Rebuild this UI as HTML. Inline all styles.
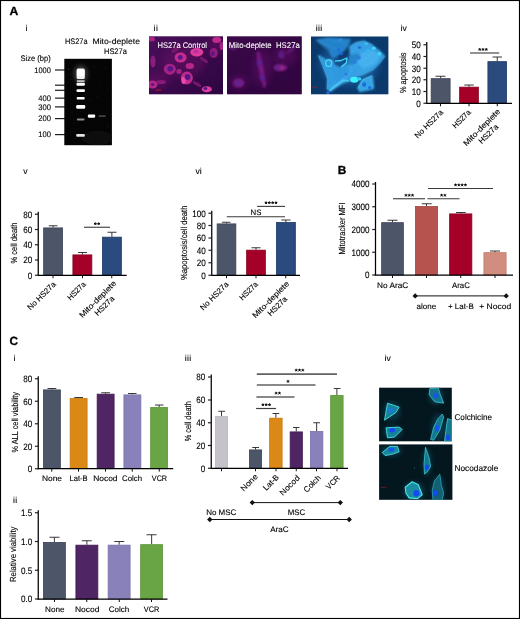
<!DOCTYPE html>
<html><head><meta charset="utf-8"><title>Figure</title>
<style>html,body{margin:0;padding:0;background:#fff;}svg{display:block;filter:blur(0.3px);text-rendering:geometricPrecision;font-family:'Liberation Sans', sans-serif;}text{fill:#000;stroke:#000;stroke-width:0.12px;}</style>
</head><body>
<svg width="520" height="619" viewBox="0 0 520 619">
<defs>
<filter id="b1" x="-50%" y="-50%" width="200%" height="200%"><feGaussianBlur stdDeviation="1"/></filter>
<filter id="b2" x="-50%" y="-50%" width="200%" height="200%"><feGaussianBlur stdDeviation="2"/></filter>
<filter id="b05" x="-50%" y="-50%" width="200%" height="200%"><feGaussianBlur stdDeviation="0.5"/></filter>
<filter id="b07" x="-50%" y="-50%" width="200%" height="200%"><feGaussianBlur stdDeviation="0.7"/></filter>
<filter id="b3" x="-50%" y="-50%" width="200%" height="200%"><feGaussianBlur stdDeviation="3.5"/></filter>
<clipPath id="cGel"><rect x="64.3" y="58.8" width="47.6" height="86.4"/></clipPath>
<clipPath id="cM1"><rect x="149" y="36.3" width="74" height="58"/></clipPath>
<clipPath id="cM2"><rect x="227" y="36.3" width="75" height="58"/></clipPath>
<clipPath id="cM3"><rect x="311" y="36.5" width="77.4" height="57.8"/></clipPath>
<clipPath id="cM4"><rect x="379.1" y="387.7" width="72.7" height="53.6"/></clipPath>
<clipPath id="cM5"><rect x="379.1" y="444.4" width="73.3" height="55.4"/></clipPath>
</defs>
<rect x="0" y="0" width="520" height="619" fill="#fff"/>
<rect x="0.5" y="0.5" width="519" height="618" fill="none" stroke="#000" stroke-width="1.15"/>
<text x="9.5" y="15.2" font-size="11.8" font-weight="bold" fill="#000" textLength="8.8" lengthAdjust="spacingAndGlyphs" style="stroke-width:0.3px">A</text>
<text x="337.7" y="173.75" font-size="11.8" font-weight="bold" fill="#000" style="stroke-width:0.3px">B</text>
<text x="9.5" y="345.3" font-size="11.8" font-weight="bold" fill="#000" style="stroke-width:0.3px">C</text>
<text x="26.5" y="31.0" font-size="8.6" text-anchor="middle" >i</text>
<text x="155.9" y="31.0" font-size="8.6" text-anchor="middle" letter-spacing="0.5">ii</text>
<text x="319.2" y="31.0" font-size="8.6" text-anchor="middle" letter-spacing="0.45">iii</text>
<text x="403.6" y="31.0" font-size="8.6" text-anchor="middle" >iv</text>
<text x="25.5" y="174.0" font-size="8.6" text-anchor="middle" >v</text>
<text x="198.5" y="174.0" font-size="8.6" text-anchor="middle" >vi</text>
<text x="14.4" y="361.2" font-size="8.6" text-anchor="middle" >i</text>
<text x="188.2" y="361.2" font-size="8.6" text-anchor="middle" letter-spacing="0.45">iii</text>
<text x="387.7" y="361.2" font-size="8.6" text-anchor="middle" >iv</text>
<text x="15.3" y="502.6" font-size="8.6" text-anchor="middle" letter-spacing="0.5">ii</text>
<!--GEL-->
<text x="65" y="43.9" font-size="8.1" textLength="22.5" lengthAdjust="spacingAndGlyphs">HS27a</text>
<text x="92.5" y="43.9" font-size="8.1" textLength="47.5" lengthAdjust="spacingAndGlyphs">Mito-deplete</text>
<text x="104" y="53.9" font-size="8.1" textLength="22.8" lengthAdjust="spacingAndGlyphs">HS27a</text>
<text x="20.5" y="61.1" font-size="8.1" textLength="30.2" lengthAdjust="spacingAndGlyphs">Size (bp)</text>
<text x="50.9" y="72.8" font-size="8" text-anchor="end" textLength="16.6" lengthAdjust="spacingAndGlyphs">1000</text>
<text x="50.9" y="100.95" font-size="8" text-anchor="end" textLength="12.7" lengthAdjust="spacingAndGlyphs">400</text>
<text x="50.9" y="109.7" font-size="8" text-anchor="end" textLength="12.7" lengthAdjust="spacingAndGlyphs">300</text>
<text x="50.9" y="121.4" font-size="8" text-anchor="end" textLength="12.7" lengthAdjust="spacingAndGlyphs">200</text>
<text x="50.9" y="137.4" font-size="8" text-anchor="end" textLength="12.7" lengthAdjust="spacingAndGlyphs">100</text>
<g stroke="#1c1c1c" stroke-width="1.2">
<line x1="55" y1="70" x2="65" y2="70"/><line x1="55" y1="85.2" x2="65" y2="85.2"/><line x1="55" y1="90.3" x2="65" y2="90.3"/>
<line x1="55" y1="98.15" x2="65" y2="98.15"/><line x1="55" y1="106.9" x2="65" y2="106.9"/><line x1="55" y1="118.6" x2="65" y2="118.6"/><line x1="55" y1="134.6" x2="65" y2="134.6"/>
</g>
<rect x="64.3" y="58.8" width="47.6" height="86.4" fill="#050505"/>
<g clip-path="url(#cGel)">
<ellipse cx="98" cy="138" rx="16" ry="7" fill="#111" filter="url(#b2)"/>
<ellipse cx="80.7" cy="74" rx="7" ry="9" fill="#3a3a3a" filter="url(#b2)"/>
<g filter="url(#b07)" fill="#fff">
<rect x="76.6" y="68.4" width="8.2" height="10.6" rx="1.5" opacity="0.93"/>
<rect x="76.9" y="69.6" width="7.6" height="6.6" rx="1.5"/>
<rect x="76.8" y="80.3" width="7.8" height="1.6" opacity="0.8"/>
<rect x="76.5" y="82.8" width="8.4" height="3" rx="1"/>
<rect x="76.5" y="89.2" width="8.4" height="2.8" rx="1"/>
<rect x="76.7" y="97.1" width="8" height="2.5" rx="1"/>
<rect x="76.2" y="105.1" width="9" height="3.6" rx="1.2"/>
<rect x="76.9" y="118.5" width="7.6" height="2" rx="0.8" opacity="0.55"/>
<rect x="76.2" y="134" width="8.6" height="2.7" rx="1" opacity="0.9"/>
<rect x="87.8" y="114.6" width="7.4" height="3.1" rx="1.1"/>
<rect x="98.6" y="115.2" width="7.2" height="1.9" rx="0.9" opacity="0.25"/>
</g>
<g fill="#fff" opacity="0.45">
<circle cx="68.8" cy="69" r="0.4"/><circle cx="70.5" cy="79.5" r="0.35"/><circle cx="94" cy="67" r="0.3"/><circle cx="105.5" cy="67.5" r="0.35"/><circle cx="90" cy="99.5" r="0.3"/>
<circle cx="97.5" cy="97" r="0.35"/><circle cx="72" cy="112" r="0.3"/><circle cx="108" cy="126" r="0.3"/><circle cx="90" cy="139" r="0.3"/><circle cx="71" cy="131" r="0.3"/><circle cx="101" cy="83" r="0.3"/>
<circle cx="108" cy="88" r="0.3"/><circle cx="86" cy="135" r="0.3"/><circle cx="104" cy="141" r="0.3"/>
</g>
</g>

<!--/GEL-->
<!--MICRO-->
<linearGradient id="gM1" x1="0" y1="0" x2="1" y2="1"><stop offset="0" stop-color="#4a0f5a"/><stop offset="0.5" stop-color="#3c0a4c"/><stop offset="1" stop-color="#2c0540"/></linearGradient>
<linearGradient id="gM2" x1="0" y1="0" x2="0.6" y2="1"><stop offset="0" stop-color="#3b0949"/><stop offset="1" stop-color="#300540"/></linearGradient>
<rect x="149" y="36.3" width="74" height="58" fill="url(#gM1)"/>
<g clip-path="url(#cM1)">
<g filter="url(#b3)" opacity="0.24" fill="#98147e">
<ellipse cx="183" cy="62" rx="22" ry="16"/><ellipse cx="158" cy="80" rx="12" ry="8"/><ellipse cx="215" cy="46" rx="9" ry="9"/>
</g>
<g filter="url(#b07)">
<ellipse cx="180.6" cy="57.6" rx="6" ry="5" fill="#c82c90"/>
<ellipse cx="196.8" cy="52.2" rx="6.5" ry="4.2" fill="#dc3a9c"/>
<ellipse cx="169.8" cy="69.2" rx="6" ry="5.5" fill="#a42484"/>
<ellipse cx="186.8" cy="78" rx="6" ry="6.5" fill="#c02a8c"/>
<ellipse cx="183.6" cy="80.5" rx="2.2" ry="3.5" fill="#ee48a8"/>
<ellipse cx="189.8" cy="66" rx="4.2" ry="3" fill="#b42888"/>
<ellipse cx="179" cy="71.5" rx="2.6" ry="2.4" fill="#a42484"/>
<ellipse cx="153" cy="61.5" rx="2.6" ry="6" fill="#8c1c7c"/>
<ellipse cx="152.5" cy="84.5" rx="5" ry="4" fill="#b42888"/>
<ellipse cx="161" cy="82" rx="5" ry="2" fill="#861a78"/>
<ellipse cx="206.8" cy="89.2" rx="5" ry="3" fill="#dc3a9c"/>
<ellipse cx="213.7" cy="53" rx="4" ry="5" fill="#901e7c"/>
<ellipse cx="216.8" cy="40" rx="4.5" ry="3" fill="#c02a8c"/>
<ellipse cx="222" cy="46" rx="2.5" ry="4" fill="#a42484"/>
<ellipse cx="151.5" cy="39" rx="3.5" ry="2.5" fill="#a42484"/>
<ellipse cx="175" cy="50" rx="4" ry="2" fill="#74166e" transform="rotate(-30 175 50)"/>
<ellipse cx="204" cy="60" rx="5" ry="1.6" fill="#74166e" transform="rotate(35 204 60)"/>
<ellipse cx="197" cy="84" rx="5" ry="1.6" fill="#74166e" transform="rotate(30 197 84)"/>
</g>
<g filter="url(#b07)" fill="#561888">
<ellipse cx="180.3" cy="57.4" rx="2.5" ry="2.3"/><ellipse cx="196" cy="51.6" rx="2.4" ry="1.8" fill="#b030a8"/>
<ellipse cx="170.2" cy="68.8" rx="2.9" ry="2.7"/><ellipse cx="187.6" cy="77" rx="2.9" ry="3"/>
<ellipse cx="205.4" cy="88.6" rx="1.9" ry="1.5"/><ellipse cx="212.6" cy="53.6" rx="2" ry="2.3"/>
<ellipse cx="152.5" cy="84.5" rx="1.6" ry="1.5"/>
</g>
<rect x="155.5" y="89.6" width="5.6" height="0.9" fill="#d01030"/>
</g>
<text x="157.5" y="47.7" font-size="8.2" textLength="49.5" lengthAdjust="spacingAndGlyphs" style="fill:#fff;stroke:#fff;stroke-width:0.08px">HS27a Control</text>

<rect x="227" y="36.3" width="74.8" height="58" fill="url(#gM2)"/>
<g clip-path="url(#cM2)">
<g filter="url(#b3)" opacity="0.28" fill="#801680">
<ellipse cx="262" cy="68" rx="10" ry="18"/><ellipse cx="285" cy="56" rx="12" ry="10"/><ellipse cx="239" cy="82" rx="9" ry="7"/>
</g>
<g filter="url(#b1)">
<path d="M257 52 L259 52 L262.6 66 L265.6 84 L264.4 88 L261 78 L258 64 Z" fill="#741a80" stroke="#741a80" stroke-width="1.2" stroke-linejoin="round"/>
<ellipse cx="280.2" cy="67.6" rx="7" ry="3.6" fill="#7a1c80"/>
<ellipse cx="281.5" cy="68" rx="2.6" ry="1.6" fill="#a82c90"/>
<ellipse cx="238.6" cy="83" rx="5.6" ry="4.6" fill="#7a1c80"/>
<ellipse cx="281.7" cy="54.5" rx="3.6" ry="4.6" fill="#5e1670"/>
<ellipse cx="291.5" cy="49.5" rx="6.5" ry="1.8" fill="#5e1670" transform="rotate(-40 291.5 49.5)"/>
<ellipse cx="233" cy="48" rx="4" ry="2.4" fill="#521268"/>
</g>
<g filter="url(#b1)" fill="#4c26a0" opacity="0.85">
<ellipse cx="259.4" cy="63" rx="1.7" ry="3"/><ellipse cx="261.9" cy="77.6" rx="1.7" ry="3"/>
<ellipse cx="238.4" cy="83" rx="2.6" ry="2.3"/><ellipse cx="277.8" cy="67.2" rx="2.4" ry="1.7"/><ellipse cx="281.2" cy="55.2" rx="1.7" ry="2"/>
</g>
</g>
<text x="228.8" y="47.9" font-size="8.2" textLength="71" lengthAdjust="spacingAndGlyphs" xml:space="preserve" style="fill:#fff;stroke:#fff;stroke-width:0.08px">Mito-deplete  HS27a</text>

<rect x="311" y="36.5" width="77.4" height="57.8" fill="#0b396b"/>
<g clip-path="url(#cM3)">
<g filter="url(#b3)" opacity="0.5"><ellipse cx="350" cy="64" rx="30" ry="22" fill="#1a6ab4"/></g>
<g filter="url(#b1)" stroke-linejoin="round">
<path d="M316.1 40.3 L327.9 37.9 L340.5 38.7 L350.0 39.5 L347.6 45.8 L342.9 51.3 L336.6 56.1 L332.7 57.7 L329.5 49.8 L323.2 45.0 Z" fill="#2381c9" stroke="#3a9ce0" stroke-width="0.8"/>
<path d="M318.5 55.3 L326.3 60.0 L332.7 60.0 L334.2 65.5 L340.5 67.9 L346.8 64.0 L351.6 70.3 L342.9 79.7 L335.8 86.0 L331.1 91.6 L327.1 89.2 L327.9 78.2 L323.2 65.5 Z" fill="#2f99df" stroke="#48b8f2" stroke-width="0.9"/>
<path d="M350.0 46.6 L356.3 42.7 L364.2 41.1 L372.1 45.0 L380.0 51.3 L384.7 56.1 L378.4 64.0 L372.1 70.3 L362.6 75.0 L354.7 77.4 L348.4 81.3 L342.9 79.7 L351.6 70.3 L348.4 62.4 L350.8 54.5 Z" fill="#35a0e4" stroke="#4cbaf4" stroke-width="0.9"/>
<path d="M357.9 87.6 L362.6 79.7 L372.1 75.8 L372.9 81.3 L373.7 88.4 L367.3 90.0 L359.5 91.6 Z" fill="#35a4e6" stroke="#54c4f6" stroke-width="0.9"/>
<path d="M348.4 81.3 L342.9 79.7 L332.7 86.0 L328.7 91.1 L334.2 89.2 L342.1 83.7 Z" fill="#46b8f2"/>
<path d="M337.1 56.1 L342.9 51.7 L347.6 46.9 L350.3 52.9 L345.6 58.0 L339.3 60.2 Z" fill="#0d3a70"/>
<path d="M348.4 62.4 L350.3 55.3 L356.3 52.9 L361.0 56.1 L356.3 61.6 L351.6 65.5 Z" fill="#2478c0" opacity="0.7"/>
<path d="M361.0 52.9 L372.1 49.8 L380.0 54.5 L375.2 64.0 L364.2 68.7 L357.9 64.0 Z" fill="#4ab4f0" opacity="0.8"/>
<path d="M318.5 41.1 L337.4 49.0 M320.0 43.5 L332.7 56.1 M329.5 40.3 L345.3 43.5" stroke="#3a9ce0" stroke-width="0.6" fill="none"/>
<path d="M356.3 73.4 L378.4 57.7 M353.2 67.9 L375.2 51.3 M361.0 75.8 L383.1 57.7" stroke="#52b8f2" stroke-width="0.6" fill="none" opacity="0.8"/>
<path d="M321.6 59.2 L330.3 88.4 M327.9 62.4 L334.2 84.5" stroke="#48b0ee" stroke-width="0.6" fill="none" opacity="0.8"/>
</g>
<g filter="url(#b05)">
<path d="M335.0 61.1 L341.3 60.5 L346.8 58.0 L346.5 62.7 L341.3 67.1" stroke="#48d8fa" stroke-width="1.3" fill="none" stroke-linejoin="round"/>
<path d="M329.5 90.8 L342.9 80.0 L349.2 81.3" stroke="#4ccaf6" stroke-width="1.1" fill="none" stroke-linejoin="round"/>
<path d="M358.2 88.4 L362.6 80.0 L372.1 75.9" stroke="#48c0f0" stroke-width="0.9" fill="none" stroke-linejoin="round"/>
<path d="M318.8 55.8 L327.9 78.2 L327.6 89.2" stroke="#3cacea" stroke-width="0.8" fill="none" stroke-linejoin="round"/>
<path d="M350.3 46.9 L356.3 43.0 L364.5 41.4 L372.1 45.0" stroke="#3ca4e4" stroke-width="0.8" fill="none" stroke-linejoin="round"/>
<path d="M372.1 70.6 L378.7 64.0 L384.7 56.4" stroke="#3ca4e4" stroke-width="0.8" fill="none" stroke-linejoin="round"/>
<ellipse cx="328.7" cy="63.2" rx="3" ry="3.3" fill="#2a9ad8" stroke="#50dcfa" stroke-width="1.1"/>
<ellipse cx="354.3" cy="79.7" rx="4.2" ry="3" fill="#3cf0ff"/>
<ellipse cx="359.1" cy="78.9" rx="2.4" ry="1.6" fill="#30d0f8"/>
<ellipse cx="373.7" cy="48.2" rx="2" ry="1.7" fill="#40d0f8"/>
<ellipse cx="379.5" cy="53.7" rx="1.8" ry="1.9" fill="#40d0f8"/>
<ellipse cx="368.1" cy="50.6" rx="2" ry="1.6" fill="#34b8f0"/>
<ellipse cx="366.1" cy="43.8" rx="1.8" ry="1.3" fill="#38c0f4"/>
<ellipse cx="340.5" cy="40.0" rx="1.5" ry="1.3" fill="#2c90f0"/>
<ellipse cx="338.6" cy="49.8" rx="1.6" ry="1.8" fill="#1c6ce0"/>
<ellipse cx="341.3" cy="53.7" rx="1.8" ry="1.4" fill="#1c64dc"/>
<ellipse cx="359.5" cy="47.4" rx="1.7" ry="1.5" fill="#2270e0"/>
<ellipse cx="359.1" cy="57.7" rx="1.7" ry="1.5" fill="#2a7ce4"/>
<ellipse cx="354.7" cy="62.4" rx="1.6" ry="1.4" fill="#2a7ce4"/>
<ellipse cx="364.2" cy="84.5" rx="2" ry="2.2" fill="#1c6ce0"/>
<ellipse cx="369.7" cy="87.6" rx="1.6" ry="1.6" fill="#1c6ce0"/>
<ellipse cx="327.9" cy="92.7" rx="1.6" ry="1.4" fill="#1c6ce0"/>
<ellipse cx="346.1" cy="74.2" rx="1.6" ry="1.4" fill="#2a7ce4"/>
</g>
<path d="M312.4 87.6 l1.2 -1.2 l1 1 l1 -0.8 l1 0.9 l1.2 0" stroke="#c01428" stroke-width="0.7" fill="none"/>
</g>

<!--/MICRO-->
<line x1="440.625" y1="78.25" x2="440.625" y2="76.25" stroke="#222" stroke-width="0.9" />
<line x1="435.5" y1="76.25" x2="445.5" y2="76.25" stroke="#222" stroke-width="0.9" />
<rect x="431.15" y="78.65" width="18.95" height="24.6" fill="#4d5669" stroke="#3b4355" stroke-width="0.8" />
<line x1="469.0" y1="86.75" x2="469.0" y2="85" stroke="#222" stroke-width="0.9" />
<line x1="464.25" y1="85" x2="473.75" y2="85" stroke="#222" stroke-width="0.9" />
<rect x="459.65" y="87.15" width="18.7" height="16.1" fill="#a40028" stroke="#86001f" stroke-width="0.8" />
<line x1="497.25" y1="61.25" x2="497.25" y2="57" stroke="#222" stroke-width="0.9" />
<line x1="492.5" y1="57" x2="502" y2="57" stroke="#222" stroke-width="0.9" />
<rect x="487.9" y="61.65" width="18.7" height="41.6" fill="#2b4a7e" stroke="#203a66" stroke-width="0.8" />
<line x1="426.75" y1="42" x2="426.75" y2="103.85" stroke="#000" stroke-width="1.25" />
<line x1="426.15" y1="103.25" x2="512" y2="103.25" stroke="#000" stroke-width="1.25" />
<line x1="423.45" y1="103.25" x2="426.75" y2="103.25" stroke="#222" stroke-width="1.2" />
<text x="420.65" y="106.5" font-size="9.3" text-anchor="end" textLength="4.5" lengthAdjust="spacingAndGlyphs" >0</text>
<line x1="423.45" y1="91.5" x2="426.75" y2="91.5" stroke="#222" stroke-width="1.2" />
<text x="420.65" y="94.75" font-size="9.3" text-anchor="end" textLength="9.0" lengthAdjust="spacingAndGlyphs" >10</text>
<line x1="423.45" y1="79.75" x2="426.75" y2="79.75" stroke="#222" stroke-width="1.2" />
<text x="420.65" y="83.0" font-size="9.3" text-anchor="end" textLength="9.0" lengthAdjust="spacingAndGlyphs" >20</text>
<line x1="423.45" y1="68.25" x2="426.75" y2="68.25" stroke="#222" stroke-width="1.2" />
<text x="420.65" y="71.5" font-size="9.3" text-anchor="end" textLength="9.0" lengthAdjust="spacingAndGlyphs" >30</text>
<line x1="423.45" y1="56.5" x2="426.75" y2="56.5" stroke="#222" stroke-width="1.2" />
<text x="420.65" y="59.76" font-size="9.3" text-anchor="end" textLength="9.0" lengthAdjust="spacingAndGlyphs" >40</text>
<line x1="423.45" y1="44.75" x2="426.75" y2="44.75" stroke="#222" stroke-width="1.2" />
<text x="420.65" y="48.01" font-size="9.3" text-anchor="end" textLength="9.0" lengthAdjust="spacingAndGlyphs" >50</text>
<line x1="440.5" y1="103.25" x2="440.5" y2="106.25" stroke="#111" stroke-width="1" />
<line x1="469" y1="103.25" x2="469" y2="106.25" stroke="#111" stroke-width="1" />
<line x1="497.25" y1="103.25" x2="497.25" y2="106.25" stroke="#111" stroke-width="1" />
<text font-size="8.8" text-anchor="middle" textLength="40.5" lengthAdjust="spacingAndGlyphs" transform="translate(406.116 72.8) rotate(-90)" >% apoptosis</text>
<line x1="470" y1="53" x2="499.25" y2="53" stroke="#3a3a3a" stroke-width="1.1" />
<path d="M479.70 49.50L479.70 48.05M479.70 49.50L481.08 49.05M479.70 49.50L480.55 50.67M479.70 49.50L478.85 50.67M479.70 49.50L478.32 49.05M483.00 49.50L483.00 48.05M483.00 49.50L484.38 49.05M483.00 49.50L483.85 50.67M483.00 49.50L482.15 50.67M483.00 49.50L481.62 49.05M486.30 49.50L486.30 48.05M486.30 49.50L487.68 49.05M486.30 49.50L487.15 50.67M486.30 49.50L485.45 50.67M486.30 49.50L484.92 49.05" stroke="#000" stroke-width="0.95" fill="none"/>
<text font-size="7.9" text-anchor="end" textLength="36.5" lengthAdjust="spacingAndGlyphs" transform="translate(443.6 113.0) rotate(-45)" >No HS27a</text>
<text font-size="7.9" text-anchor="end" textLength="22.5" lengthAdjust="spacingAndGlyphs" transform="translate(471.4 112.9) rotate(-45)" >HS27a</text>
<g transform="translate(500.8 112.1) rotate(-45)">
<text x="0" y="0" font-size="7.9" text-anchor="end" textLength="48.5" lengthAdjust="spacingAndGlyphs">Mito-deplete</text>
<text x="-24.25" y="9.4" font-size="7.9" text-anchor="middle" textLength="24" lengthAdjust="spacingAndGlyphs">HS27a</text>
</g>
<line x1="53.125" y1="227.5" x2="53.125" y2="225.75" stroke="#222" stroke-width="0.9" />
<line x1="48.75" y1="225.75" x2="57.5" y2="225.75" stroke="#222" stroke-width="0.9" />
<rect x="43.65" y="227.9" width="18.95" height="47.35" fill="#4d5669" stroke="#3b4355" stroke-width="0.8" />
<line x1="82.375" y1="254.5" x2="82.375" y2="252.5" stroke="#222" stroke-width="0.9" />
<line x1="78" y1="252.5" x2="87" y2="252.5" stroke="#222" stroke-width="0.9" />
<rect x="72.9" y="254.9" width="18.95" height="20.35" fill="#a40028" stroke="#86001f" stroke-width="0.8" />
<line x1="111.875" y1="236.75" x2="111.875" y2="232.25" stroke="#222" stroke-width="0.9" />
<line x1="107.5" y1="232.25" x2="116.5" y2="232.25" stroke="#222" stroke-width="0.9" />
<rect x="102.4" y="237.15" width="18.95" height="38.1" fill="#2b4a7e" stroke="#203a66" stroke-width="0.8" />
<line x1="38.25" y1="211.75" x2="38.25" y2="275.85" stroke="#000" stroke-width="1.25" />
<line x1="37.65" y1="275.25" x2="126.75" y2="275.25" stroke="#000" stroke-width="1.25" />
<line x1="34.95" y1="275.25" x2="38.25" y2="275.25" stroke="#222" stroke-width="1.2" />
<text x="32.15" y="278.5" font-size="9.3" text-anchor="end" textLength="4.5" lengthAdjust="spacingAndGlyphs" >0</text>
<line x1="34.95" y1="260" x2="38.25" y2="260" stroke="#222" stroke-width="1.2" />
<text x="32.15" y="263.25" font-size="9.3" text-anchor="end" textLength="9.0" lengthAdjust="spacingAndGlyphs" >20</text>
<line x1="34.95" y1="244.75" x2="38.25" y2="244.75" stroke="#222" stroke-width="1.2" />
<text x="32.15" y="248.0" font-size="9.3" text-anchor="end" textLength="9.0" lengthAdjust="spacingAndGlyphs" >40</text>
<line x1="34.95" y1="229.5" x2="38.25" y2="229.5" stroke="#222" stroke-width="1.2" />
<text x="32.15" y="232.75" font-size="9.3" text-anchor="end" textLength="9.0" lengthAdjust="spacingAndGlyphs" >60</text>
<line x1="34.95" y1="214.25" x2="38.25" y2="214.25" stroke="#222" stroke-width="1.2" />
<text x="32.15" y="217.5" font-size="9.3" text-anchor="end" textLength="9.0" lengthAdjust="spacingAndGlyphs" >80</text>
<line x1="53" y1="275.25" x2="53" y2="278.25" stroke="#111" stroke-width="1" />
<line x1="82.5" y1="275.25" x2="82.5" y2="278.25" stroke="#111" stroke-width="1" />
<line x1="111.75" y1="275.25" x2="111.75" y2="278.25" stroke="#111" stroke-width="1" />
<text font-size="8.8" text-anchor="middle" textLength="41" lengthAdjust="spacingAndGlyphs" transform="translate(17.316 243) rotate(-90)" >% cell death</text>
<line x1="84" y1="227.25" x2="110" y2="227.25" stroke="#3a3a3a" stroke-width="1.1" />
<path d="M95.35 223.80L95.35 222.35M95.35 223.80L96.73 223.35M95.35 223.80L96.20 224.97M95.35 223.80L94.50 224.97M95.35 223.80L93.97 223.35M98.65 223.80L98.65 222.35M98.65 223.80L100.03 223.35M98.65 223.80L99.50 224.97M98.65 223.80L97.80 224.97M98.65 223.80L97.27 223.35" stroke="#000" stroke-width="0.95" fill="none"/>
<text font-size="7.9" text-anchor="end" textLength="36.5" lengthAdjust="spacingAndGlyphs" transform="translate(56.3 284.8) rotate(-45)" >No HS27a</text>
<text font-size="7.9" text-anchor="end" textLength="22.5" lengthAdjust="spacingAndGlyphs" transform="translate(86.3 284.9) rotate(-45)" >HS27a</text>
<g transform="translate(116.8 283.9) rotate(-45)">
<text x="0" y="0" font-size="7.9" text-anchor="end" textLength="48.5" lengthAdjust="spacingAndGlyphs">Mito-deplete</text>
<text x="-24.25" y="9.4" font-size="7.9" text-anchor="middle" textLength="24" lengthAdjust="spacingAndGlyphs">HS27a</text>
</g>
<line x1="226.5" y1="223.5" x2="226.5" y2="222.25" stroke="#222" stroke-width="0.9" />
<line x1="222" y1="222.25" x2="230.5" y2="222.25" stroke="#222" stroke-width="0.9" />
<rect x="217.15" y="223.9" width="18.7" height="51.35" fill="#4d5669" stroke="#3b4355" stroke-width="0.8" />
<line x1="256.0" y1="249.75" x2="256.0" y2="247.75" stroke="#222" stroke-width="0.9" />
<line x1="251.5" y1="247.75" x2="260.5" y2="247.75" stroke="#222" stroke-width="0.9" />
<rect x="246.65" y="250.15" width="18.7" height="25.1" fill="#a40028" stroke="#86001f" stroke-width="0.8" />
<line x1="285.875" y1="222" x2="285.875" y2="220" stroke="#222" stroke-width="0.9" />
<line x1="281.25" y1="220" x2="290.5" y2="220" stroke="#222" stroke-width="0.9" />
<rect x="276.4" y="222.4" width="18.95" height="52.85" fill="#2b4a7e" stroke="#203a66" stroke-width="0.8" />
<line x1="211.75" y1="210.75" x2="211.75" y2="275.85" stroke="#000" stroke-width="1.25" />
<line x1="211.15" y1="275.25" x2="300" y2="275.25" stroke="#000" stroke-width="1.25" />
<line x1="208.45" y1="275.25" x2="211.75" y2="275.25" stroke="#222" stroke-width="1.2" />
<text x="205.65" y="278.5" font-size="9.3" text-anchor="end" textLength="4.5" lengthAdjust="spacingAndGlyphs" >0</text>
<line x1="208.45" y1="262.75" x2="211.75" y2="262.75" stroke="#222" stroke-width="1.2" />
<text x="205.65" y="266.0" font-size="9.3" text-anchor="end" textLength="9.0" lengthAdjust="spacingAndGlyphs" >20</text>
<line x1="208.45" y1="250.25" x2="211.75" y2="250.25" stroke="#222" stroke-width="1.2" />
<text x="205.65" y="253.5" font-size="9.3" text-anchor="end" textLength="9.0" lengthAdjust="spacingAndGlyphs" >40</text>
<line x1="208.45" y1="238" x2="211.75" y2="238" stroke="#222" stroke-width="1.2" />
<text x="205.65" y="241.25" font-size="9.3" text-anchor="end" textLength="9.0" lengthAdjust="spacingAndGlyphs" >60</text>
<line x1="208.45" y1="225.5" x2="211.75" y2="225.5" stroke="#222" stroke-width="1.2" />
<text x="205.65" y="228.75" font-size="9.3" text-anchor="end" textLength="9.0" lengthAdjust="spacingAndGlyphs" >80</text>
<line x1="208.45" y1="213.25" x2="211.75" y2="213.25" stroke="#222" stroke-width="1.2" />
<text x="205.65" y="216.5" font-size="9.3" text-anchor="end" textLength="13.5" lengthAdjust="spacingAndGlyphs" >100</text>
<line x1="226.5" y1="275.25" x2="226.5" y2="278.25" stroke="#111" stroke-width="1" />
<line x1="256" y1="275.25" x2="256" y2="278.25" stroke="#111" stroke-width="1" />
<line x1="285.75" y1="275.25" x2="285.75" y2="278.25" stroke="#111" stroke-width="1" />
<text font-size="8.8" text-anchor="middle" textLength="74.5" lengthAdjust="spacingAndGlyphs" transform="translate(186.566 242.75) rotate(-90)" >%apoptosis/cell death</text>
<line x1="226.75" y1="216.7" x2="285" y2="216.7" stroke="#3a3a3a" stroke-width="1.1" />
<text x="256" y="214.5" font-size="7.8" text-anchor="middle" >NS</text>
<line x1="257.1" y1="206.4" x2="285" y2="206.4" stroke="#3a3a3a" stroke-width="1.1" />
<path d="M266.05 202.80L266.05 201.35M266.05 202.80L267.43 202.35M266.05 202.80L266.90 203.97M266.05 202.80L265.20 203.97M266.05 202.80L264.67 202.35M269.35 202.80L269.35 201.35M269.35 202.80L270.73 202.35M269.35 202.80L270.20 203.97M269.35 202.80L268.50 203.97M269.35 202.80L267.97 202.35M272.65 202.80L272.65 201.35M272.65 202.80L274.03 202.35M272.65 202.80L273.50 203.97M272.65 202.80L271.80 203.97M272.65 202.80L271.27 202.35M275.95 202.80L275.95 201.35M275.95 202.80L277.33 202.35M275.95 202.80L276.80 203.97M275.95 202.80L275.10 203.97M275.95 202.80L274.57 202.35" stroke="#000" stroke-width="0.95" fill="none"/>
<text font-size="7.9" text-anchor="end" textLength="36.5" lengthAdjust="spacingAndGlyphs" transform="translate(229.0 284.9) rotate(-45)" >No HS27a</text>
<text font-size="7.9" text-anchor="end" textLength="22.5" lengthAdjust="spacingAndGlyphs" transform="translate(258.5 284.9) rotate(-45)" >HS27a</text>
<g transform="translate(289.7 284.3) rotate(-45)">
<text x="0" y="0" font-size="7.9" text-anchor="end" textLength="48.5" lengthAdjust="spacingAndGlyphs">Mito-deplete</text>
<text x="-24.25" y="9.4" font-size="7.9" text-anchor="middle" textLength="24" lengthAdjust="spacingAndGlyphs">HS27a</text>
</g>
<line x1="392.5" y1="222.25" x2="392.5" y2="220.25" stroke="#222" stroke-width="0.9" />
<line x1="387.5" y1="220.25" x2="397.5" y2="220.25" stroke="#222" stroke-width="0.9" />
<rect x="381.65" y="222.65" width="21.7" height="52.35" fill="#4d5669" stroke="#3b4355" stroke-width="0.8" />
<line x1="426.5" y1="206" x2="426.5" y2="203.75" stroke="#222" stroke-width="0.9" />
<line x1="421.75" y1="203.75" x2="431.75" y2="203.75" stroke="#222" stroke-width="0.9" />
<rect x="415.4" y="206.4" width="22.2" height="68.6" fill="#b6534e" stroke="#a64640" stroke-width="0.8" />
<line x1="460.75" y1="213.5" x2="460.75" y2="212.5" stroke="#222" stroke-width="0.9" />
<line x1="456" y1="212.5" x2="465.75" y2="212.5" stroke="#222" stroke-width="0.9" />
<rect x="449.65" y="213.9" width="22.2" height="61.1" fill="#a40028" stroke="#86001f" stroke-width="0.8" />
<line x1="495.0" y1="252.25" x2="495.0" y2="251" stroke="#222" stroke-width="0.9" />
<line x1="490" y1="251" x2="500" y2="251" stroke="#222" stroke-width="0.9" />
<rect x="483.9" y="252.65" width="22.2" height="22.35" fill="#d18d7d" stroke="#c67c6b" stroke-width="0.8" />
<line x1="375.5" y1="182" x2="375.5" y2="275.6" stroke="#000" stroke-width="1.25" />
<line x1="374.9" y1="275" x2="513" y2="275" stroke="#000" stroke-width="1.25" />
<line x1="372.2" y1="275" x2="375.5" y2="275" stroke="#222" stroke-width="1.2" />
<text x="369.4" y="278.25" font-size="9.3" text-anchor="end" textLength="4.5" lengthAdjust="spacingAndGlyphs" >0</text>
<line x1="372.2" y1="252.25" x2="375.5" y2="252.25" stroke="#222" stroke-width="1.2" />
<text x="369.4" y="255.5" font-size="9.3" text-anchor="end" textLength="17.99" lengthAdjust="spacingAndGlyphs" >1000</text>
<line x1="372.2" y1="229.5" x2="375.5" y2="229.5" stroke="#222" stroke-width="1.2" />
<text x="369.4" y="232.75" font-size="9.3" text-anchor="end" textLength="17.99" lengthAdjust="spacingAndGlyphs" >2000</text>
<line x1="372.2" y1="206.75" x2="375.5" y2="206.75" stroke="#222" stroke-width="1.2" />
<text x="369.4" y="210.0" font-size="9.3" text-anchor="end" textLength="17.99" lengthAdjust="spacingAndGlyphs" >3000</text>
<line x1="372.2" y1="184" x2="375.5" y2="184" stroke="#222" stroke-width="1.2" />
<text x="369.4" y="187.25" font-size="9.3" text-anchor="end" textLength="17.99" lengthAdjust="spacingAndGlyphs" >4000</text>
<line x1="392.5" y1="275" x2="392.5" y2="278" stroke="#111" stroke-width="1" />
<line x1="426.5" y1="275" x2="426.5" y2="278" stroke="#111" stroke-width="1" />
<line x1="460.75" y1="275" x2="460.75" y2="278" stroke="#111" stroke-width="1" />
<line x1="495" y1="275" x2="495" y2="278" stroke="#111" stroke-width="1" />
<text font-size="8.8" text-anchor="middle" textLength="52" lengthAdjust="spacingAndGlyphs" transform="translate(345.316 228.5) rotate(-90)" >Mitotracker MFI</text>
<line x1="393" y1="198.75" x2="425" y2="198.75" stroke="#3a3a3a" stroke-width="1.1" />
<path d="M405.95 195.30L405.95 193.85M405.95 195.30L407.33 194.85M405.95 195.30L406.80 196.47M405.95 195.30L405.10 196.47M405.95 195.30L404.57 194.85M409.25 195.30L409.25 193.85M409.25 195.30L410.63 194.85M409.25 195.30L410.10 196.47M409.25 195.30L408.40 196.47M409.25 195.30L407.87 194.85M412.55 195.30L412.55 193.85M412.55 195.30L413.93 194.85M412.55 195.30L413.40 196.47M412.55 195.30L411.70 196.47M412.55 195.30L411.17 194.85" stroke="#000" stroke-width="0.95" fill="none"/>
<line x1="427.5" y1="198.75" x2="459.5" y2="198.75" stroke="#3a3a3a" stroke-width="1.1" />
<path d="M441.60 195.30L441.60 193.85M441.60 195.30L442.98 194.85M441.60 195.30L442.45 196.47M441.60 195.30L440.75 196.47M441.60 195.30L440.22 194.85M444.90 195.30L444.90 193.85M444.90 195.30L446.28 194.85M444.90 195.30L445.75 196.47M444.90 195.30L444.05 196.47M444.90 195.30L443.52 194.85" stroke="#000" stroke-width="0.95" fill="none"/>
<line x1="428" y1="188.5" x2="493" y2="188.5" stroke="#3a3a3a" stroke-width="1.1" />
<path d="M455.55 185.00L455.55 183.55M455.55 185.00L456.93 184.55M455.55 185.00L456.40 186.17M455.55 185.00L454.70 186.17M455.55 185.00L454.17 184.55M458.85 185.00L458.85 183.55M458.85 185.00L460.23 184.55M458.85 185.00L459.70 186.17M458.85 185.00L458.00 186.17M458.85 185.00L457.47 184.55M462.15 185.00L462.15 183.55M462.15 185.00L463.53 184.55M462.15 185.00L463.00 186.17M462.15 185.00L461.30 186.17M462.15 185.00L460.77 184.55M465.45 185.00L465.45 183.55M465.45 185.00L466.83 184.55M465.45 185.00L466.30 186.17M465.45 185.00L464.60 186.17M465.45 185.00L464.07 184.55" stroke="#000" stroke-width="0.95" fill="none"/>
<text x="377" y="288.3" font-size="8.0" textLength="31.2" lengthAdjust="spacingAndGlyphs" >No AraC</text>
<text x="452" y="288.3" font-size="8.0" textLength="17.8" lengthAdjust="spacingAndGlyphs" >AraC</text>
<line x1="415.2" y1="295.9" x2="506.2" y2="295.9" stroke="#111" stroke-width="1" />
<path d="M412.5 295.9L415.2 293.2L417.9 295.9L415.2 298.59999999999997Z" fill="#111"/>
<path d="M503.5 295.9L506.2 293.2L508.9 295.9L506.2 298.59999999999997Z" fill="#111"/>
<text x="416.6" y="309.2" font-size="8.0" textLength="19.6" lengthAdjust="spacingAndGlyphs" >alone</text>
<text x="448" y="309.2" font-size="8.0" textLength="25.8" lengthAdjust="spacingAndGlyphs" >+ Lat-B</text>
<text x="479.2" y="309.2" font-size="8.0" textLength="32" lengthAdjust="spacingAndGlyphs" >+ Nocod</text>
<line x1="51.875" y1="389.5" x2="51.875" y2="388.5" stroke="#222" stroke-width="0.9" />
<line x1="47.5" y1="388.5" x2="56.25" y2="388.5" stroke="#222" stroke-width="0.9" />
<rect x="43.4" y="389.9" width="16.95" height="78.74999999999997" fill="#4d5669" stroke="#3b4355" stroke-width="0.8" />
<line x1="78.625" y1="398" x2="78.625" y2="397.5" stroke="#222" stroke-width="0.9" />
<line x1="74.25" y1="397.5" x2="83" y2="397.5" stroke="#222" stroke-width="0.9" />
<rect x="70.15" y="398.4" width="16.95" height="70.24999999999997" fill="#da8916" stroke="#c97c10" stroke-width="0.8" />
<line x1="105.625" y1="393.75" x2="105.625" y2="392.75" stroke="#222" stroke-width="0.9" />
<line x1="101.25" y1="392.75" x2="110" y2="392.75" stroke="#222" stroke-width="0.9" />
<rect x="97.15" y="394.15" width="16.95" height="74.49999999999997" fill="#502563" stroke="#401a52" stroke-width="0.8" />
<line x1="132.375" y1="394.5" x2="132.375" y2="393.5" stroke="#222" stroke-width="0.9" />
<line x1="128" y1="393.5" x2="136.5" y2="393.5" stroke="#222" stroke-width="0.9" />
<rect x="123.9" y="394.9" width="16.95" height="73.74999999999997" fill="#8981b9" stroke="#7a72ac" stroke-width="0.8" />
<line x1="159.125" y1="407" x2="159.125" y2="405" stroke="#222" stroke-width="0.9" />
<line x1="155" y1="405" x2="163.5" y2="405" stroke="#222" stroke-width="0.9" />
<rect x="150.65" y="407.4" width="16.95" height="61.24999999999998" fill="#69a545" stroke="#5c973a" stroke-width="0.8" />
<line x1="38.25" y1="376.25" x2="38.25" y2="469.25" stroke="#000" stroke-width="1.25" />
<line x1="37.65" y1="468.65" x2="173.2" y2="468.65" stroke="#000" stroke-width="1.25" />
<line x1="34.95" y1="468.75" x2="38.25" y2="468.75" stroke="#222" stroke-width="1.2" />
<text x="32.15" y="472.0" font-size="9.3" text-anchor="end" textLength="4.5" lengthAdjust="spacingAndGlyphs" >0</text>
<line x1="34.95" y1="446.25" x2="38.25" y2="446.25" stroke="#222" stroke-width="1.2" />
<text x="32.15" y="449.5" font-size="9.3" text-anchor="end" textLength="9.0" lengthAdjust="spacingAndGlyphs" >20</text>
<line x1="34.95" y1="423.75" x2="38.25" y2="423.75" stroke="#222" stroke-width="1.2" />
<text x="32.15" y="427.0" font-size="9.3" text-anchor="end" textLength="9.0" lengthAdjust="spacingAndGlyphs" >40</text>
<line x1="34.95" y1="401.25" x2="38.25" y2="401.25" stroke="#222" stroke-width="1.2" />
<text x="32.15" y="404.5" font-size="9.3" text-anchor="end" textLength="9.0" lengthAdjust="spacingAndGlyphs" >60</text>
<line x1="34.95" y1="378.75" x2="38.25" y2="378.75" stroke="#222" stroke-width="1.2" />
<text x="32.15" y="382.0" font-size="9.3" text-anchor="end" textLength="9.0" lengthAdjust="spacingAndGlyphs" >80</text>
<line x1="51.75" y1="468.65" x2="51.75" y2="471.65" stroke="#111" stroke-width="1" />
<line x1="78.5" y1="468.65" x2="78.5" y2="471.65" stroke="#111" stroke-width="1" />
<line x1="105.5" y1="468.65" x2="105.5" y2="471.65" stroke="#111" stroke-width="1" />
<line x1="132.25" y1="468.65" x2="132.25" y2="471.65" stroke="#111" stroke-width="1" />
<line x1="159.25" y1="468.65" x2="159.25" y2="471.65" stroke="#111" stroke-width="1" />
<text font-size="8.8" text-anchor="middle" textLength="60.5" lengthAdjust="spacingAndGlyphs" transform="translate(17.816 422.25) rotate(-90)" >% ALL cell viability</text>
<text x="42" y="481.4" font-size="8.0" textLength="20" lengthAdjust="spacingAndGlyphs" >None</text>
<text x="69.5" y="481.4" font-size="8.0" textLength="18" lengthAdjust="spacingAndGlyphs" >Lat-B</text>
<text x="93.2" y="481.4" font-size="8.0" textLength="24.3" lengthAdjust="spacingAndGlyphs" >Nocod</text>
<text x="122" y="481.4" font-size="8.0" textLength="20" lengthAdjust="spacingAndGlyphs" >Colch</text>
<text x="151.8" y="481.4" font-size="8.0" textLength="15.3" lengthAdjust="spacingAndGlyphs" >VCR</text>
<line x1="54.375" y1="542" x2="54.375" y2="537.25" stroke="#222" stroke-width="0.9" />
<line x1="49.5" y1="537.25" x2="59.5" y2="537.25" stroke="#222" stroke-width="0.9" />
<rect x="43.4" y="542.4" width="21.95" height="56.6" fill="#4d5669" stroke="#3b4355" stroke-width="0.8" />
<line x1="86.875" y1="544.75" x2="86.875" y2="540.75" stroke="#222" stroke-width="0.9" />
<line x1="81.75" y1="540.75" x2="91.75" y2="540.75" stroke="#222" stroke-width="0.9" />
<rect x="75.9" y="545.15" width="21.95" height="53.85" fill="#502563" stroke="#401a52" stroke-width="0.8" />
<line x1="119.125" y1="544.75" x2="119.125" y2="541.5" stroke="#222" stroke-width="0.9" />
<line x1="114.25" y1="541.5" x2="124.25" y2="541.5" stroke="#222" stroke-width="0.9" />
<rect x="108.15" y="545.15" width="21.95" height="53.85" fill="#8981b9" stroke="#7a72ac" stroke-width="0.8" />
<line x1="151.625" y1="544.25" x2="151.625" y2="534.75" stroke="#222" stroke-width="0.9" />
<line x1="146.5" y1="534.75" x2="156.5" y2="534.75" stroke="#222" stroke-width="0.9" />
<rect x="140.65" y="544.65" width="21.95" height="54.35" fill="#69a545" stroke="#5c973a" stroke-width="0.8" />
<line x1="38.25" y1="510.25" x2="38.25" y2="599.6" stroke="#000" stroke-width="1.25" />
<line x1="37.65" y1="599" x2="167.5" y2="599" stroke="#000" stroke-width="1.25" />
<line x1="34.95" y1="599" x2="38.25" y2="599" stroke="#222" stroke-width="1.2" />
<text x="32.15" y="602.25" font-size="9.3" text-anchor="end" textLength="11.25" lengthAdjust="spacingAndGlyphs" >0.0</text>
<line x1="34.95" y1="570.25" x2="38.25" y2="570.25" stroke="#222" stroke-width="1.2" />
<text x="32.15" y="573.5" font-size="9.3" text-anchor="end" textLength="11.25" lengthAdjust="spacingAndGlyphs" >0.5</text>
<line x1="34.95" y1="541.5" x2="38.25" y2="541.5" stroke="#222" stroke-width="1.2" />
<text x="32.15" y="544.75" font-size="9.3" text-anchor="end" textLength="11.25" lengthAdjust="spacingAndGlyphs" >1.0</text>
<line x1="34.95" y1="512.75" x2="38.25" y2="512.75" stroke="#222" stroke-width="1.2" />
<text x="32.15" y="516.0" font-size="9.3" text-anchor="end" textLength="11.25" lengthAdjust="spacingAndGlyphs" >1.5</text>
<line x1="54.5" y1="599" x2="54.5" y2="602" stroke="#111" stroke-width="1" />
<line x1="86.75" y1="599" x2="86.75" y2="602" stroke="#111" stroke-width="1" />
<line x1="119.25" y1="599" x2="119.25" y2="602" stroke="#111" stroke-width="1" />
<line x1="151.5" y1="599" x2="151.5" y2="602" stroke="#111" stroke-width="1" />
<text font-size="8.8" text-anchor="middle" textLength="55.5" lengthAdjust="spacingAndGlyphs" transform="translate(15.816 554.25) rotate(-90)" >Relative viability</text>
<text x="45" y="612.3" font-size="8.0" textLength="19.5" lengthAdjust="spacingAndGlyphs" >None</text>
<text x="75" y="612.3" font-size="8.0" textLength="24.5" lengthAdjust="spacingAndGlyphs" >Nocod</text>
<text x="108.75" y="612.3" font-size="8.0" textLength="20.5" lengthAdjust="spacingAndGlyphs" >Colch</text>
<text x="143.75" y="612.3" font-size="8.0" textLength="15.5" lengthAdjust="spacingAndGlyphs" >VCR</text>
<line x1="221.5" y1="416" x2="221.5" y2="411.25" stroke="#222" stroke-width="0.9" />
<line x1="218.25" y1="411.25" x2="225" y2="411.25" stroke="#222" stroke-width="0.9" />
<rect x="215.4" y="416.4" width="12.2" height="51.85" fill="#c5c3c9" stroke="#b9b7be" stroke-width="0.8" />
<line x1="255.5" y1="449.5" x2="255.5" y2="447.5" stroke="#222" stroke-width="0.9" />
<line x1="252.25" y1="447.5" x2="259" y2="447.5" stroke="#222" stroke-width="0.9" />
<rect x="249.4" y="449.9" width="12.2" height="18.35" fill="#4d5669" stroke="#3b4355" stroke-width="0.8" />
<line x1="275.875" y1="417.75" x2="275.875" y2="413.5" stroke="#222" stroke-width="0.9" />
<line x1="272.5" y1="413.5" x2="279.25" y2="413.5" stroke="#222" stroke-width="0.9" />
<rect x="269.65" y="418.15" width="12.45" height="50.1" fill="#da8916" stroke="#c97c10" stroke-width="0.8" />
<line x1="296.25" y1="431.5" x2="296.25" y2="427.5" stroke="#222" stroke-width="0.9" />
<line x1="293" y1="427.5" x2="299.5" y2="427.5" stroke="#222" stroke-width="0.9" />
<rect x="290.15" y="431.9" width="12.2" height="36.35" fill="#502563" stroke="#401a52" stroke-width="0.8" />
<line x1="316.625" y1="431" x2="316.625" y2="422.75" stroke="#222" stroke-width="0.9" />
<line x1="313.25" y1="422.75" x2="320" y2="422.75" stroke="#222" stroke-width="0.9" />
<rect x="310.4" y="431.4" width="12.45" height="36.85" fill="#8981b9" stroke="#7a72ac" stroke-width="0.8" />
<line x1="336.875" y1="395" x2="336.875" y2="388.5" stroke="#222" stroke-width="0.9" />
<line x1="333.75" y1="388.5" x2="340.5" y2="388.5" stroke="#222" stroke-width="0.9" />
<rect x="330.65" y="395.4" width="12.45" height="72.85" fill="#69a545" stroke="#5c973a" stroke-width="0.8" />
<line x1="211.25" y1="374.5" x2="211.25" y2="468.85" stroke="#000" stroke-width="1.25" />
<line x1="210.65" y1="468.25" x2="348" y2="468.25" stroke="#000" stroke-width="1.25" />
<line x1="207.95" y1="468.25" x2="211.25" y2="468.25" stroke="#222" stroke-width="1.2" />
<text x="205.15" y="471.5" font-size="9.3" text-anchor="end" textLength="4.5" lengthAdjust="spacingAndGlyphs" >0</text>
<line x1="207.95" y1="445.5" x2="211.25" y2="445.5" stroke="#222" stroke-width="1.2" />
<text x="205.15" y="448.75" font-size="9.3" text-anchor="end" textLength="9.0" lengthAdjust="spacingAndGlyphs" >20</text>
<line x1="207.95" y1="422.75" x2="211.25" y2="422.75" stroke="#222" stroke-width="1.2" />
<text x="205.15" y="426.0" font-size="9.3" text-anchor="end" textLength="9.0" lengthAdjust="spacingAndGlyphs" >40</text>
<line x1="207.95" y1="400" x2="211.25" y2="400" stroke="#222" stroke-width="1.2" />
<text x="205.15" y="403.25" font-size="9.3" text-anchor="end" textLength="9.0" lengthAdjust="spacingAndGlyphs" >60</text>
<line x1="207.95" y1="377" x2="211.25" y2="377" stroke="#222" stroke-width="1.2" />
<text x="205.15" y="380.25" font-size="9.3" text-anchor="end" textLength="9.0" lengthAdjust="spacingAndGlyphs" >80</text>
<line x1="221.5" y1="468.25" x2="221.5" y2="471.25" stroke="#111" stroke-width="1" />
<line x1="255.5" y1="468.25" x2="255.5" y2="471.25" stroke="#111" stroke-width="1" />
<line x1="276" y1="468.25" x2="276" y2="471.25" stroke="#111" stroke-width="1" />
<line x1="296.25" y1="468.25" x2="296.25" y2="471.25" stroke="#111" stroke-width="1" />
<line x1="316.5" y1="468.25" x2="316.5" y2="471.25" stroke="#111" stroke-width="1" />
<line x1="337" y1="468.25" x2="337" y2="471.25" stroke="#111" stroke-width="1" />
<text font-size="8.8" text-anchor="middle" textLength="40" lengthAdjust="spacingAndGlyphs" transform="translate(191.416 421.25) rotate(-90)" >% cell death</text>
<line x1="256.1" y1="408.5" x2="276" y2="408.5" stroke="#3c3c3c" stroke-width="1.2" />
<path d="M262.90 404.80L262.90 403.35M262.90 404.80L264.28 404.35M262.90 404.80L263.75 405.97M262.90 404.80L262.05 405.97M262.90 404.80L261.52 404.35M266.20 404.80L266.20 403.35M266.20 404.80L267.58 404.35M266.20 404.80L267.05 405.97M266.20 404.80L265.35 405.97M266.20 404.80L264.82 404.35M269.50 404.80L269.50 403.35M269.50 404.80L270.88 404.35M269.50 404.80L270.35 405.97M269.50 404.80L268.65 405.97M269.50 404.80L268.12 404.35" stroke="#000" stroke-width="0.95" fill="none"/>
<line x1="256.4" y1="397" x2="294.5" y2="397" stroke="#626262" stroke-width="1.6" />
<path d="M276.15 393.20L276.15 391.75M276.15 393.20L277.53 392.75M276.15 393.20L277.00 394.37M276.15 393.20L275.30 394.37M276.15 393.20L274.77 392.75M279.45 393.20L279.45 391.75M279.45 393.20L280.83 392.75M279.45 393.20L280.30 394.37M279.45 393.20L278.60 394.37M279.45 393.20L278.07 392.75" stroke="#000" stroke-width="0.95" fill="none"/>
<line x1="256.8" y1="385" x2="315.5" y2="385" stroke="#626262" stroke-width="1.6" />
<path d="M288.00 381.40L288.00 379.95M288.00 381.40L289.38 380.95M288.00 381.40L288.85 382.57M288.00 381.40L287.15 382.57M288.00 381.40L286.62 380.95" stroke="#000" stroke-width="0.95" fill="none"/>
<line x1="256.8" y1="374.1" x2="337" y2="374.1" stroke="#626262" stroke-width="1.6" />
<path d="M296.20 370.20L296.20 368.75M296.20 370.20L297.58 369.75M296.20 370.20L297.05 371.37M296.20 370.20L295.35 371.37M296.20 370.20L294.82 369.75M299.50 370.20L299.50 368.75M299.50 370.20L300.88 369.75M299.50 370.20L300.35 371.37M299.50 370.20L298.65 371.37M299.50 370.20L298.12 369.75M302.80 370.20L302.80 368.75M302.80 370.20L304.18 369.75M302.80 370.20L303.65 371.37M302.80 370.20L301.95 371.37M302.80 370.20L301.42 369.75" stroke="#000" stroke-width="0.95" fill="none"/>
<text font-size="8" text-anchor="end" textLength="20.5" lengthAdjust="spacingAndGlyphs" transform="translate(258.3 477.2) rotate(-45)" >None</text>
<text font-size="8" text-anchor="end" textLength="18.5" lengthAdjust="spacingAndGlyphs" transform="translate(279.4 477.9) rotate(-45)" >Lat-B</text>
<text font-size="8" text-anchor="end" textLength="24.8" lengthAdjust="spacingAndGlyphs" transform="translate(300.3 478.4) rotate(-45)" >Nocod</text>
<text font-size="8" text-anchor="end" textLength="20.5" lengthAdjust="spacingAndGlyphs" transform="translate(321.3 478.4) rotate(-45)" >Colch</text>
<text font-size="8" text-anchor="end" textLength="16" lengthAdjust="spacingAndGlyphs" transform="translate(340.4 478.6) rotate(-45)" >VCR</text>
<line x1="252.3" y1="502.6" x2="340.3" y2="502.6" stroke="#111" stroke-width="1" />
<path d="M249.60000000000002 502.6L252.3 499.90000000000003L255.0 502.6L252.3 505.3Z" fill="#111"/>
<path d="M337.6 502.6L340.3 499.90000000000003L343.0 502.6L340.3 505.3Z" fill="#111"/>
<text x="206.2" y="515.3" font-size="8.0" textLength="30.2" lengthAdjust="spacingAndGlyphs" >No MSC</text>
<text x="287.7" y="515.3" font-size="8.0" textLength="17.5" lengthAdjust="spacingAndGlyphs" >MSC</text>
<line x1="209.8" y1="519.5" x2="349.2" y2="519.5" stroke="#111" stroke-width="1" />
<path d="M207.10000000000002 519.5L209.8 516.8L212.5 519.5L209.8 522.2Z" fill="#111"/>
<path d="M346.5 519.5L349.2 516.8L351.9 519.5L349.2 522.2Z" fill="#111"/>
<text x="270.2" y="532.4" font-size="8.0" textLength="18.4" lengthAdjust="spacingAndGlyphs" >AraC</text>
<!--MICRO2-->
<rect x="379.1" y="387.7" width="72.7" height="53.6" fill="#04171f"/>
<rect x="379.1" y="444.4" width="73.3" height="55.4" fill="#04171f"/>
<g clip-path="url(#cM4)">
<g filter="url(#b2)" opacity="0.5" fill="#0e5060">
<ellipse cx="392" cy="411" rx="9" ry="10"/><ellipse cx="393" cy="432" rx="10" ry="7"/><ellipse cx="436" cy="396" rx="8" ry="9"/><ellipse cx="438" cy="428" rx="7" ry="14"/><ellipse cx="449" cy="432" rx="5" ry="12"/>
</g>
<g filter="url(#b07)" stroke-linejoin="round">
<path d="M387.5 403.2 L399.1 407.1 L396 412.5 L384.5 420.2 Z" fill="#198498" stroke="#46dce6" stroke-width="0.9"/>
<path d="M386 427.8 L399.1 427.1 L402.2 429.4 L394.5 437.1 L387.5 437.8 Z" fill="#198498" stroke="#46dce6" stroke-width="0.9"/>
<path d="M429.8 388.6 L438.3 387.8 L439.8 393.2 L443.7 403.2 L434.5 401.7 L429.1 394.8 Z" fill="#16748a" stroke="#38c4d2" stroke-width="0.8"/>
<path d="M442.2 414 L443.7 417.1 L439.8 430.2 L433.7 440.2 L430.6 439.4 L433.7 427.1 L437.5 419.4 Z" fill="#17788c" stroke="#36c0d0" stroke-width="0.8"/>
<path d="M447.5 418.6 L451.9 420.2 L451.9 441.4 L444.5 441.4 L446 430.2 Z" fill="#17788c" stroke="#3ccad8" stroke-width="0.8"/>
<ellipse cx="390.6" cy="410.4" rx="2.4" ry="2.8" fill="#1c78d8"/>
<ellipse cx="392.2" cy="430.3" rx="2.8" ry="2.2" fill="#1248f4"/>
<ellipse cx="436" cy="395.5" rx="2.3" ry="2.8" fill="#1454f0"/>
<ellipse cx="437.1" cy="428.3" rx="2.1" ry="3.2" fill="#1454f0"/>
<ellipse cx="448" cy="437.6" rx="2" ry="3" fill="#1248f4"/>
</g>
</g>
<g clip-path="url(#cM5)">
<g filter="url(#b2)" opacity="0.5" fill="#0e5060">
<ellipse cx="391" cy="451" rx="11" ry="6"/><ellipse cx="427" cy="462" rx="5" ry="14"/><ellipse cx="414" cy="491" rx="11" ry="10"/><ellipse cx="438" cy="489" rx="7" ry="13"/>
</g>
<g filter="url(#b07)" stroke-linejoin="round">
<path d="M382.2 452.5 L389.8 446.4 L397.5 446.4 L399.1 451.8 L392.9 454.1 L385.2 455.6 Z" fill="#1a889c" stroke="#46dce6" stroke-width="0.9"/>
<path d="M425.5 447.2 L429.1 457.9 L430.6 466.4 L427.5 471.8 L424.5 474.1 L424 464.1 Z" fill="#17788c" stroke="#38c4d2" stroke-width="0.8"/>
<path d="M405.2 487.2 L412.2 481.8 L418.3 484.8 L422.2 494.8 L417.5 498.7 L409.1 497.9 L406 493.3 Z" fill="#1c8ea2" stroke="#4ce8f0" stroke-width="1.1"/>
<path d="M439.8 474.1 L441.4 485.6 L443.7 493.3 L442.2 500 L432.9 500 L432.2 490.2 L434.5 481 Z" fill="#126074" stroke="#2aa4b6" stroke-width="0.8"/>
<ellipse cx="391.4" cy="449.6" rx="3" ry="2.2" fill="#1454f0"/>
<ellipse cx="426.8" cy="467.2" rx="2" ry="2.8" fill="#1248f4"/>
<ellipse cx="416.3" cy="493.3" rx="2.9" ry="3.2" fill="#1248f4"/>
<ellipse cx="435.2" cy="493" rx="2.3" ry="3" fill="#1248f4"/>
<circle cx="414.5" cy="468" r="0.6" fill="#1a7080"/>
</g>
<path d="M381 487.8 l1.2 -0.8 l1 0.8 l1.2 -0.7 l1.2 0.7 l1.2 0" stroke="#b01020" stroke-width="0.7" fill="none"/>
</g>

<!--/MICRO2-->
<text x="454.5" y="419.9" font-size="8.4" textLength="37.5" lengthAdjust="spacingAndGlyphs" >Colchicine</text>
<text x="454.5" y="471.4" font-size="8.4" textLength="43.8" lengthAdjust="spacingAndGlyphs" >Nocodazole</text>
</svg>
</body></html>
